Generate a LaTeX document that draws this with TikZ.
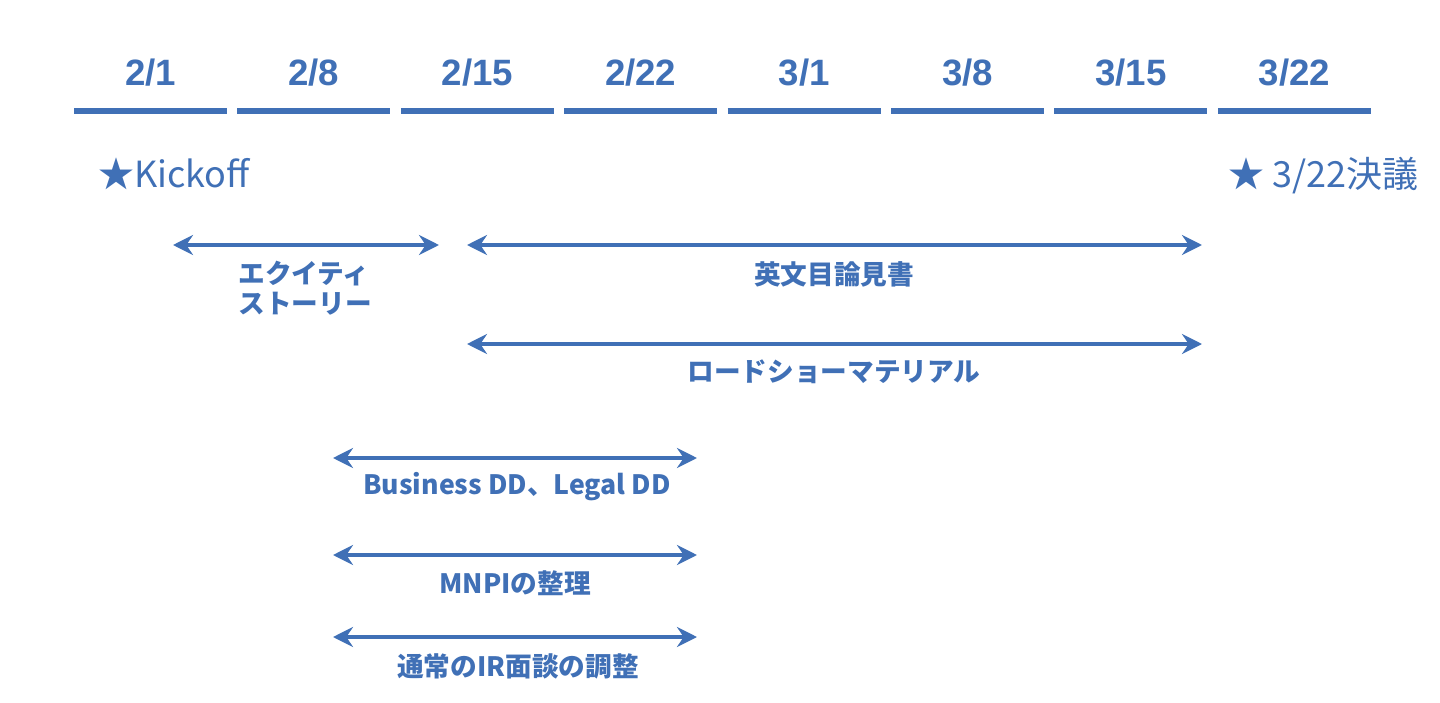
\documentclass[tikz,border=0pt]{standalone}
\usepackage{fontspec}
\setmainfont{Liberation Sans}
\newfontfamily\jpfont{Noto Sans CJK JP}
\usetikzlibrary{arrows.meta}
\definecolor{planblue}{RGB}{64,112,182}
\tikzstyle{date label}=[text=planblue, inner sep=0pt, anchor=base, font=\fontsize{27.5}{30}\selectfont\bfseries]
\tikzstyle{week bar}=[draw=planblue, line width=4.5pt]
\tikzstyle{milestone}=[text=planblue, inner sep=0pt, anchor=base west, font=\jpfont\fontsize{27}{30}\selectfont]
\tikzstyle{period}=[draw=planblue, line width=2.5pt, {Stealth[length=15pt, width=15pt, inset=5pt]}-{Stealth[length=15pt, width=15pt, inset=5pt]}]
\tikzstyle{task label}=[text=planblue, inner sep=0pt, align=left, font=\jpfont\bfseries\fontsize{20}{22.5}\selectfont]

\begin{document}
\begin{tikzpicture}[x=0.75pt, y=-0.75pt]
  \useasboundingbox (0,0) rectangle (1440,703);
  % weekly scale
  \foreach \d [count=\i from 0] in {2/1,2/8,2/15,2/22,3/1,3/8,3/15,3/22} {
    \coordinate (w\i l) at (74+163.4*\i, 111);
    \coordinate (w\i r) at (227+163.4*\i, 111);
    \draw[week bar] (w\i l) -- (w\i r);
    \node[date label] (d\i) at (150.5+163.4*\i, 85) {\d};
  }
  % milestones
  \node[milestone] (kickoff) at (98,187) {★Kickoff};
  \node[milestone] (resolution) at (1228,187) {★ 3/22決議};
  % work streams
  \coordinate (equity l) at (173,245);
  \coordinate (equity r) at (439,245);
  \draw[period] (equity l) -- (equity r);
  \node[task label] (equity) at (305,288) {エクイティ\\ストーリー};
  \coordinate (prosp l) at (467,245);
  \coordinate (prosp r) at (1202,245);
  \draw[period] (prosp l) -- (prosp r);
  \node[task label] (prosp) at (834,274) {英文目論見書};
  \coordinate (road l) at (467,344);
  \coordinate (road r) at (1202,344);
  \draw[period] (road l) -- (road r);
  \node[task label] (road) at (834,372) {ロードショーマテリアル};
  \coordinate (dd l) at (333,458);
  \coordinate (dd r) at (697,458);
  \draw[period] (dd l) -- (dd r);
  \node[task label] (dd) at (517,487) {Business DD、Legal DD};
  \coordinate (mnpi l) at (333,555);
  \coordinate (mnpi r) at (697,555);
  \draw[period] (mnpi l) -- (mnpi r);
  \node[task label] (mnpi) at (515,583) {MNPIの整理};
  \coordinate (ir l) at (333,637);
  \coordinate (ir r) at (697,637);
  \draw[period] (ir l) -- (ir r);
  \node[task label] (ir) at (518,666) {通常のIR面談の調整};
\end{tikzpicture}
\end{document}
